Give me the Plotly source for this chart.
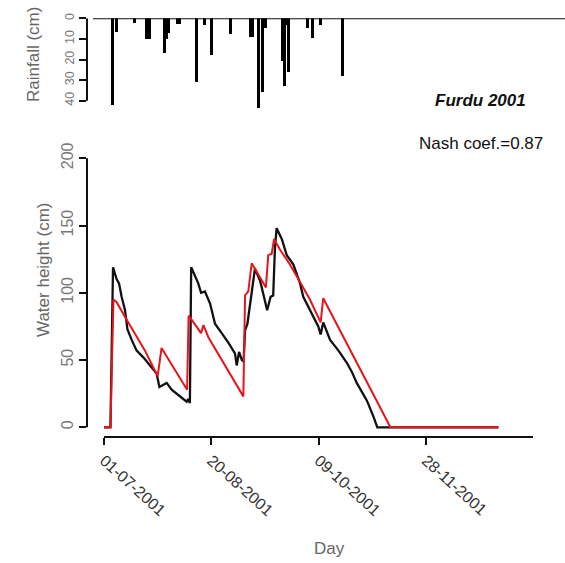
import plotly.graph_objects as go

# ---------------- data ----------------
# day offsets from 01-07-2001
rain_day = [4, 6, 14, 20, 21, 28, 29, 30, 34, 35, 43, 47, 50, 59, 68, 69, 72, 74, 75,
            83, 84, 85, 86, 95, 97, 101, 111]
rain_cm = [42, 7, 2.5, 10, 10, 17, 10, 7.5, 3, 3, 31, 3.5, 18, 8, 9, 9, 43.5, 36, 5,
           21, 33, 3.5, 26, 5, 9.5, 3.5, 28]

obs_day = [0, 3, 4.2, 5, 5.9, 7, 8.2, 9.8, 10.9, 12.9, 15.2, 18.3, 21.4, 24.5, 25.8, 26.8,
           29.2, 31.5, 34.6, 37.7, 38.5, 39.2, 40, 40.6, 42.4, 43.9, 45.2, 47, 49.4, 51.7,
           54.8, 57.9, 61, 61.8, 62.9, 64.2, 65, 65.7, 66.8, 68, 68.8, 70.3, 72.7, 76,
           77.6, 78.8, 79.6, 80.4, 82.8, 85.1, 88.2, 91.3, 92.8, 96.7, 99.8, 100.9, 102.1,
           105.3, 109.2, 113.1, 115.5, 117.7, 120, 122.4, 125.5, 127.3, 183.7]
obs_h = [0, 0, 119, 114, 110, 107, 97, 87, 73, 65, 57, 52, 46, 40, 30, 31,
         33, 28, 24, 20, 19, 21, 18, 119, 112, 107, 100, 101, 92, 77,
         70, 63, 55, 46, 56, 50, 49, 72, 77, 92, 102, 118, 109, 87,
         97, 98, 133, 148, 140, 128, 121, 107, 97, 85, 75, 69, 78,
         65, 57, 48, 41, 33, 27, 20, 8, 0, 0]

sim_day = [0, 3, 4.4, 5.9, 9.8, 14.4, 19.1, 25, 26.8, 38.7, 39.4, 40.8, 45.2, 46.3, 48.6,
           64.9, 65.7, 67.2, 68.8, 75.4, 76.5, 78.1, 79.2, 82, 86.6, 91.3, 95.9, 100.9,
           102.1, 133.4, 183.7]
sim_h = [0, 0, 95, 93, 82, 70, 57, 38, 59, 28, 83, 80, 70, 76, 67,
         23, 98, 101, 122, 104, 128, 129, 140, 132, 121, 108, 95, 78,
         96, 0, 0]

tick_days = [0, 50, 100, 150]
tick_labels = ["01-07-2001", "20-08-2001", "09-10-2001", "28-11-2001"]
rain_ticks = [0, 10, 20, 30, 40]
h_ticks = [0, 50, 100, 150, 200]

W, H = 565, 563
FONT = "Liberation Sans, Arial, sans-serif"


def px(x):
    return x / W


def py(y):
    return 1 - y / H


fig = go.Figure()

fig.add_trace(go.Bar(x=rain_day, y=rain_cm, width=1.4, marker=dict(color="black", line=dict(width=0)),
                     xaxis="x2", yaxis="y2"))
fig.add_trace(go.Scatter(x=obs_day, y=obs_h, mode="lines", line=dict(color="#111111", width=2.3)))
fig.add_trace(go.Scatter(x=sim_day, y=sim_h, mode="lines", line=dict(color="#e8141c", width=2)))

xdom = [px(87), px(533)]
xrange_ = [-7.92, 199.8]
ydom = [py(437), py(158)]
y2dom = [py(110), py(18.3)]

fig.update_layout(
    width=W, height=H, margin=dict(l=0, r=0, t=0, b=0, autoexpand=False),
    paper_bgcolor="white", plot_bgcolor="white", showlegend=False,
    font=dict(family=FONT, size=16, color="#333"),
    bargap=0,
    xaxis=dict(domain=xdom, range=xrange_, tickvals=tick_days, ticktext=tick_labels,
               tickangle=42, ticks="outside", ticklen=7, tickwidth=2, tickcolor="#111",
               showgrid=False, zeroline=False, showline=False, anchor="y", automargin=False,
               tickfont=dict(size=16, color="#333")),
    yaxis=dict(domain=ydom, range=[-7.2, 200.2], tickvals=h_ticks, tickangle=-90,
               ticks="outside", ticklen=7, tickwidth=2, tickcolor="#111", automargin=False,
               showgrid=False, zeroline=False, showline=False, anchor="x",
               tickfont=dict(size=16, color="#777")),
    xaxis2=dict(domain=xdom, range=xrange_, visible=False, anchor="y2", automargin=False),
    yaxis2=dict(domain=y2dom, range=[44.5, 0], tickvals=rain_ticks, tickangle=-90,
                ticks="outside", ticklen=7, tickwidth=2, tickcolor="#111", automargin=False,
                showgrid=False, zeroline=False, showline=False, anchor="x2",
                tickfont=dict(size=12.5, color="#777")),
)

shapes = [
    dict(type="line", xref="paper", yref="y", x0=px(87), x1=px(87), y0=0, y1=200,
         line=dict(color="#111", width=2)),
    dict(type="line", xref="x", yref="paper", x0=0, x1=200, y0=ydom[0], y1=ydom[0],
         line=dict(color="#111", width=2)),
    dict(type="line", xref="paper", yref="y2", x0=px(87), x1=px(87), y0=0, y1=40,
         line=dict(color="#111", width=2)),
    dict(type="line", xref="paper", yref="y2", x0=px(93), x1=1, y0=0, y1=0,
         line=dict(color="#111", width=2)),
]
fig.update_layout(shapes=shapes)

ann = [
    dict(text="Rainfall (cm)", x=px(33), y=py(55), textangle=-90, font=dict(size=17, color="#666")),
    dict(text="Water height (cm)", x=px(43), y=py(270), textangle=-90, font=dict(size=17, color="#666")),
    dict(text="Day", x=px(329), y=py(548), font=dict(size=17, color="#666")),
    dict(text="<b><i>Furdu 2001</i></b>", x=px(480), y=py(100), font=dict(size=17, color="#111")),
    dict(text="Nash coef.=0.87", x=px(481), y=py(143), font=dict(size=17, color="#111")),
]
for a in ann:
    a.update(xref="paper", yref="paper", showarrow=False, xanchor="center", yanchor="middle")
fig.update_layout(annotations=ann)

fig.write_html("out.html", config={"displayModeBar": False},
               post_script="document.body.style.margin='0';document.body.style.overflow='hidden';")
